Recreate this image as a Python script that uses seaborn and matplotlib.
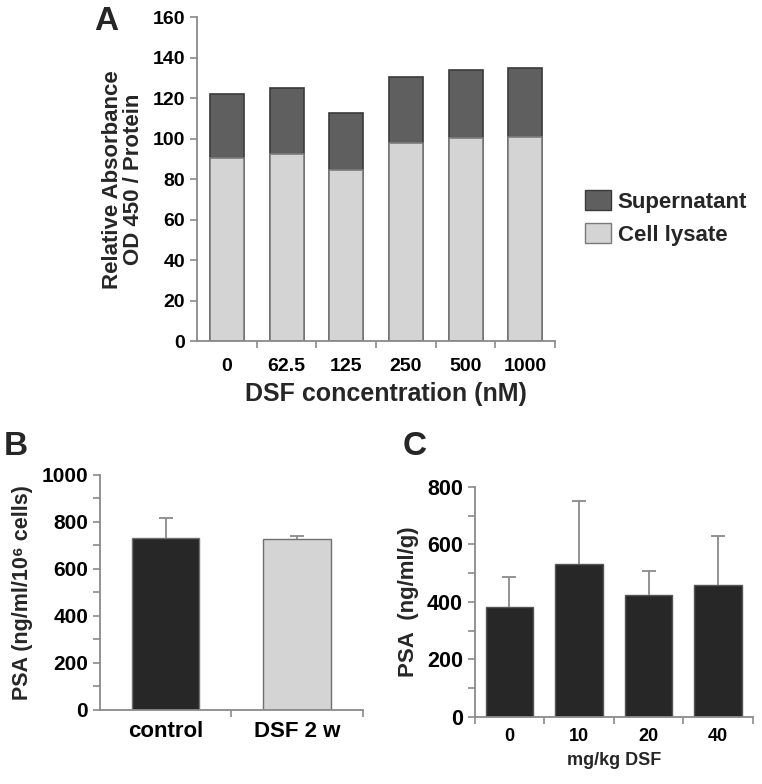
import numpy as np
import pandas as pd
import matplotlib
matplotlib.use("Agg")
import matplotlib.pyplot as plt
import seaborn as sns
from matplotlib.patches import Patch

# --------------------------
# data
# --------------------------
a_conc = ["0", "62.5", "125", "250", "500", "1000"]
a_lysate = [90.5, 92.5, 84.5, 98.0, 100.5, 101.0]
a_supernatant = [31.5, 32.5, 28.0, 32.5, 33.5, 34.0]

b_groups = ["control", "DSF 2 w"]
b_psa = [733, 728]
b_err = [84, 12]

c_dose = ["0", "10", "20", "40"]
c_psa = [381, 532, 423, 458]
c_err = [104, 219, 84, 172]

sns.set_style("ticks")
plt.rcParams["font.family"] = ["Liberation Sans", "DejaVu Sans"]
plt.rcParams["font.weight"] = "bold"

AX_GREY = "#8a8a8a"
DARK = "#5f5f5f"
LIGHT = "#d4d4d4"
BLACK_BAR = "#272727"


def style_axes(ax):
    sns.despine(ax=ax)
    for s in ["left", "bottom"]:
        ax.spines[s].set_color(AX_GREY)
        ax.spines[s].set_linewidth(1.3)
    ax.tick_params(axis="y", colors=AX_GREY, labelcolor="black", length=5, width=1.2)
    ax.tick_params(axis="x", which="major", length=0, labelcolor="black")
    ax.tick_params(axis="x", which="minor", colors=AX_GREY, length=5, width=1.2)


def category_ticks(ax, n):
    ax.set_xlim(-0.5, n - 0.5)
    ax.set_xticks(np.arange(n) + 0.5, minor=True)


def upper_errorbars(ax, values, errs):
    # one-sided error bars, only the top cap is shown
    _, caps, _ = ax.errorbar(np.arange(len(values)), values,
                             yerr=[np.zeros(len(errs)), errs], fmt="none",
                             ecolor=AX_GREY, elinewidth=1.3, capsize=5, capthick=1.3)
    for cl in caps:
        if np.allclose(cl.get_ydata(), values):
            cl.set_visible(False)


def bold_ticklabels(ax):
    for lab in ax.get_xticklabels() + ax.get_yticklabels():
        lab.set_fontweight("bold")


fig = plt.figure(figsize=(7.62, 7.84), dpi=100)

# --------------------------
# Panel A - stacked bars
# --------------------------
axA = fig.add_axes([0.2585, 0.565, 0.470, 0.413])
df_a = pd.DataFrame({"conc": a_conc, "lysate": a_lysate, "supernatant": a_supernatant})
df_a["total"] = df_a["lysate"] + df_a["supernatant"]
sns.barplot(data=df_a, x="conc", y="total", color=DARK, width=0.57,
            edgecolor="#3a3a3a", linewidth=1.2, saturation=1, ax=axA)
sns.barplot(data=df_a, x="conc", y="lysate", color=LIGHT, width=0.57,
            edgecolor="#7a7a7a", linewidth=1.2, saturation=1, ax=axA)
style_axes(axA)
category_ticks(axA, len(a_conc))
axA.set_ylim(0, 160)
axA.set_yticks(range(0, 161, 20))
axA.tick_params(axis="both", labelsize=14)
axA.tick_params(axis="x", pad=12)
axA.set_xlabel("DSF concentration (nM)", fontsize=18, fontweight="bold", labelpad=4)
axA.xaxis.set_label_coords(0.528, -0.125)
axA.set_ylabel("Relative Absorbance\nOD 450 / Protein", fontsize=16, fontweight="bold",
               labelpad=6, linespacing=1.0)
bold_ticklabels(axA)
handles = [Patch(facecolor=DARK, edgecolor="#3a3a3a"), Patch(facecolor=LIGHT, edgecolor="#7a7a7a")]
fig.legend(handles, ["Supernatant", "Cell lysate"], loc="center left",
           bbox_to_anchor=(0.742, 0.722), frameon=False,
           handlelength=1.15, handleheight=1.0, handletextpad=0.3, labelspacing=0.45,
           prop={"weight": "bold", "size": 16})
fig.text(0.124, 0.972, "A", fontsize=24, fontweight="bold", ha="left", va="center")

# --------------------------
# Panel B
# --------------------------
axB = fig.add_axes([0.131, 0.0944, 0.345, 0.30])
df_b = pd.DataFrame({"group": b_groups, "psa": b_psa})
sns.barplot(data=df_b, x="group", y="psa", hue="group", palette=[BLACK_BAR, LIGHT],
            width=0.51, edgecolor="#707070", linewidth=1.0, saturation=1,
            legend=False, ax=axB)
upper_errorbars(axB, b_psa, b_err)
style_axes(axB)
category_ticks(axB, len(b_groups))
axB.set_ylim(0, 1000)
axB.set_yticks(range(0, 1001, 100))
axB.set_yticklabels([str(v) if v % 200 == 0 else "" for v in range(0, 1001, 100)])
axB.tick_params(axis="y", labelsize=15)
axB.tick_params(axis="x", labelsize=16, pad=8)
axB.set_xlabel("")
axB.set_ylabel("PSA (ng/ml/10\u2076 cells)", fontsize=15.5, fontweight="bold", labelpad=6)
bold_ticklabels(axB)
fig.text(0.005, 0.430, "B", fontsize=24, fontweight="bold", ha="left", va="center")

# --------------------------
# Panel C
# --------------------------
axC = fig.add_axes([0.623, 0.0855, 0.365, 0.2935])
df_c = pd.DataFrame({"dose": c_dose, "psa": c_psa})
sns.barplot(data=df_c, x="dose", y="psa", color=BLACK_BAR, width=0.68,
            edgecolor="#555555", linewidth=1.0, saturation=1, ax=axC)
upper_errorbars(axC, c_psa, c_err)
style_axes(axC)
axC.set_xlim(-0.5, len(c_dose) - 0.5)
axC.set_xticks(np.arange(len(c_dose) + 1) - 0.5, minor=True)
axC.set_ylim(0, 800)
axC.set_yticks(range(0, 801, 100))
axC.set_yticklabels([str(v) if v % 200 == 0 else "" for v in range(0, 801, 100)])
axC.tick_params(axis="y", labelsize=15.5)
axC.tick_params(axis="x", labelsize=13, pad=8)
axC.set_xlabel("mg/kg DSF", fontsize=13, fontweight="bold", labelpad=5)
axC.set_ylabel("PSA  (ng/ml/g)", fontsize=16, fontweight="bold", labelpad=6)
bold_ticklabels(axC)
fig.text(0.528, 0.430, "C", fontsize=24, fontweight="bold", ha="left", va="center")

fig.savefig("out.png", dpi=100)
plt.close(fig)
